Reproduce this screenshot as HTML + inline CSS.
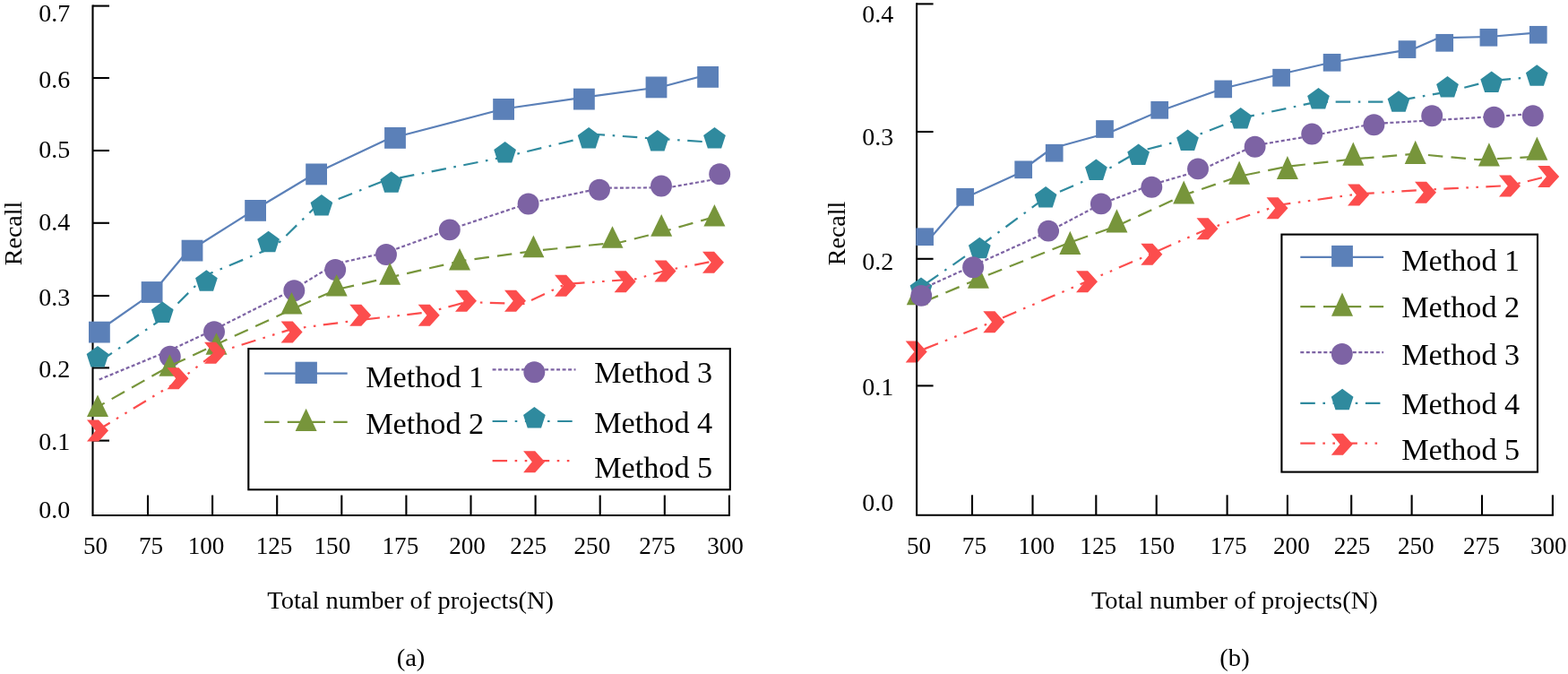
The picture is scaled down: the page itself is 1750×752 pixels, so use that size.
<!DOCTYPE html>
<html lang="en">
<head>
<meta charset="utf-8">
<title>Recall versus total number of projects</title>
<style>
html,body{margin:0;padding:0;background:#fff;}
body{width:1750px;height:752px;overflow:hidden;}
svg{display:block;}
text{font-family:"Liberation Serif",serif;}
</style>
</head>
<body>
<svg width="1750" height="752" viewBox="0 0 1750 752" font-family="'Liberation Serif', serif" fill="#000" role="img" aria-label="Recall versus total number of projects for five methods, panels (a) and (b)">
<rect width="1750" height="752" fill="#fff"/>
<g stroke="#000" stroke-width="2.1" fill="none" stroke-linecap="butt">
<path d="M103.5 5.55 V575 H814.85"/>
<path d="M103.5 491.6 H122"/>
<path d="M103.5 410.4 H122"/>
<path d="M103.5 330 H122"/>
<path d="M103.5 248.8 H122"/>
<path d="M103.5 168 H122"/>
<path d="M103.5 87 H122"/>
<path d="M103.5 6.6 H122"/>
<path d="M165 575 V552.5"/>
<path d="M237.1 575 V552.5"/>
<path d="M309.2 575 V552.5"/>
<path d="M381.3 575 V552.5"/>
<path d="M453.4 575 V552.5"/>
<path d="M525.5 575 V552.5"/>
<path d="M597.6 575 V552.5"/>
<path d="M669.7 575 V552.5"/>
<path d="M741.8 575 V552.5"/>
<path d="M813.9 575 V552.5"/>
</g>
<text transform="translate(78.2 577.6) scale(1 1)" font-size="28" text-anchor="end">0.0</text>
<text transform="translate(78.2 502.4) scale(1 1)" font-size="28" text-anchor="end">0.1</text>
<text transform="translate(78.2 421.4) scale(1 1)" font-size="28" text-anchor="end">0.2</text>
<text transform="translate(78.2 341) scale(1 1)" font-size="28" text-anchor="end">0.3</text>
<text transform="translate(78.2 257.4) scale(1 1)" font-size="28" text-anchor="end">0.4</text>
<text transform="translate(78.2 176) scale(1 1)" font-size="28" text-anchor="end">0.5</text>
<text transform="translate(78.2 98.4) scale(1 1)" font-size="28" text-anchor="end">0.6</text>
<text transform="translate(78.2 23.6) scale(1 1)" font-size="28" text-anchor="end">0.7</text>
<text transform="translate(106.6 617.7) scale(0.97 1)" font-size="28" text-anchor="middle">50</text>
<text transform="translate(168.6 617.7) scale(0.97 1)" font-size="28" text-anchor="middle">75</text>
<text transform="translate(230 617.7) scale(0.97 1)" font-size="28" text-anchor="middle">100</text>
<text transform="translate(306 617.7) scale(0.97 1)" font-size="28" text-anchor="middle">125</text>
<text transform="translate(370.9 617.7) scale(0.97 1)" font-size="28" text-anchor="middle">150</text>
<text transform="translate(446.9 617.7) scale(0.97 1)" font-size="28" text-anchor="middle">175</text>
<text transform="translate(521.5 617.7) scale(0.97 1)" font-size="28" text-anchor="middle">200</text>
<text transform="translate(589.7 617.7) scale(0.97 1)" font-size="28" text-anchor="middle">225</text>
<text transform="translate(660.9 617.7) scale(0.97 1)" font-size="28" text-anchor="middle">250</text>
<text transform="translate(733.5 617.7) scale(0.97 1)" font-size="28" text-anchor="middle">275</text>
<text transform="translate(809.5 617.7) scale(0.97 1)" font-size="28" text-anchor="middle">300</text>
<text transform="translate(458.2 678.9) scale(1.01 1)" font-size="28.2" text-anchor="middle">Total number of projects(N)</text>
<text transform="translate(23.5 260.4) rotate(-90)" font-size="28" text-anchor="middle">Recall</text>
<text transform="translate(458.5 742.8) scale(1.02 1)" font-size="28" text-anchor="middle">(a)</text>
<path d="M110.8 368.5 L169.5 327.7 L207.6 282.2 L285 233.5 L353.1 192.7 L432.7 155.3 L562.1 121.5 L651.9 108.7 L738 97 L790.1 83.3" fill="none" stroke="#5b80b8" stroke-width="2.2" stroke-linejoin="round"/>
<rect x="99" y="358.7" width="23.8" height="23.8" fill="#5b80b8"/>
<rect x="157.7" y="314.1" width="23.8" height="23.8" fill="#5b80b8"/>
<rect x="202.6" y="267.7" width="23.8" height="23.8" fill="#5b80b8"/>
<rect x="273.2" y="223" width="23.8" height="23.8" fill="#5b80b8"/>
<rect x="341.2" y="182.5" width="23.8" height="23.8" fill="#5b80b8"/>
<rect x="429.1" y="142" width="23.8" height="23.8" fill="#5b80b8"/>
<rect x="550.2" y="110" width="23.8" height="23.8" fill="#5b80b8"/>
<rect x="640" y="98.7" width="23.8" height="23.8" fill="#5b80b8"/>
<rect x="720.6" y="85.5" width="23.8" height="23.8" fill="#5b80b8"/>
<rect x="778.2" y="74" width="23.8" height="23.8" fill="#5b80b8"/>
<path d="M110.7 423.6 L190.2 390.6 L239 367.8 L326.7 323.5 L374.5 294.3 L430.9 281.8 L501.6 256.2 L589.3 227 L673 209.6 L745 209.4 L803.1 199.2" fill="none" stroke="#7d63a4" stroke-width="2.2" stroke-linejoin="round" stroke-dasharray="4 2.5"/>
<circle cx="189.8" cy="397.8" r="11.95" fill="#7d63a4"/>
<circle cx="239" cy="370.2" r="11.95" fill="#7d63a4"/>
<circle cx="328.3" cy="324.2" r="11.95" fill="#7d63a4"/>
<circle cx="374.2" cy="301" r="11.95" fill="#7d63a4"/>
<circle cx="431" cy="284" r="11.95" fill="#7d63a4"/>
<circle cx="501.8" cy="256.4" r="11.95" fill="#7d63a4"/>
<circle cx="589.6" cy="227.5" r="11.95" fill="#7d63a4"/>
<circle cx="669" cy="211.8" r="11.95" fill="#7d63a4"/>
<circle cx="738" cy="207.5" r="11.95" fill="#7d63a4"/>
<circle cx="803.2" cy="194.3" r="11.95" fill="#7d63a4"/>
<path d="M109 454 L189.4 408.5 L241.6 384.2 L325.5 345.4 L375.7 323 L435.2 309.5 L513.1 291.4 L595.4 280 L693.7 270 L738.3 258.9 L797.4 242" fill="none" stroke="#77953b" stroke-width="2.2" stroke-linejoin="round" stroke-dasharray="16.5 9.2" stroke-dashoffset="-18"/>
<polygon points="109,440.4 121,465 97,465" fill="#77953b"/>
<polygon points="189.4,395.2 201.4,419.8 177.4,419.8" fill="#77953b"/>
<polygon points="241.5,371.2 253.5,395.8 229.5,395.8" fill="#77953b"/>
<polygon points="325.5,325.9 337.5,350.5 313.5,350.5" fill="#77953b"/>
<polygon points="375.7,305.9 387.7,330.5 363.7,330.5" fill="#77953b"/>
<polygon points="435.1,293.1 447.1,317.7 423.1,317.7" fill="#77953b"/>
<polygon points="513,276.9 525,301.5 501,301.5" fill="#77953b"/>
<polygon points="595.4,262.6 607.4,287.2 583.4,287.2" fill="#77953b"/>
<polygon points="683.5,252.2 695.5,276.8 671.5,276.8" fill="#77953b"/>
<polygon points="738.2,239.1 750.2,263.7 726.2,263.7" fill="#77953b"/>
<polygon points="797.4,227.9 809.4,252.5 785.4,252.5" fill="#77953b"/>
<path d="M109 404.8 L181.3 355.6 L230.4 306.8 L307 275 L350 233 L428 202 L563.6 175 L666.9 150 L734 154.8 L797.5 158.9" fill="none" stroke="#2f8a9e" stroke-width="2.2" stroke-linejoin="round" stroke-dasharray="16.5 8.6 2.6 8.6" stroke-dashoffset="-2.8"/>
<polygon points="109,386.1 121.36,395.08 116.64,409.62 101.36,409.62 96.64,395.08" fill="#2f8a9e"/>
<polygon points="181.3,336.4 193.66,345.38 188.94,359.92 173.66,359.92 168.94,345.38" fill="#2f8a9e"/>
<polygon points="230.4,301.2 242.76,310.18 238.04,324.72 222.76,324.72 218.04,310.18" fill="#2f8a9e"/>
<polygon points="299.6,257.8 311.96,266.78 307.24,281.32 291.96,281.32 287.24,266.78" fill="#2f8a9e"/>
<polygon points="358.9,217.1 371.26,226.08 366.54,240.62 351.26,240.62 346.54,226.08" fill="#2f8a9e"/>
<polygon points="436.8,191.3 449.16,200.28 444.44,214.82 429.16,214.82 424.44,200.28" fill="#2f8a9e"/>
<polygon points="563.6,158 575.96,166.98 571.24,181.52 555.96,181.52 551.24,166.98" fill="#2f8a9e"/>
<polygon points="657.1,142.1 669.46,151.08 664.74,165.62 649.46,165.62 644.74,151.08" fill="#2f8a9e"/>
<polygon points="733.9,145 746.26,153.98 741.54,168.52 726.26,168.52 721.54,153.98" fill="#2f8a9e"/>
<polygon points="797.5,142.1 809.86,151.08 805.14,165.62 789.86,165.62 785.14,151.08" fill="#2f8a9e"/>
<path d="M109 480 L198.5 425.6 L240 394 L325.7 367.1 L402.1 357 L478.6 348.3 L520.6 337 L584.5 339 L631.2 317 L709.5 311.3 L742.3 302 L795.9 291.5" fill="none" stroke="#fc4d4d" stroke-width="2.2" stroke-linejoin="round" stroke-dasharray="16.5 8.5 2.6 8.5 2.6 8.4" stroke-dashoffset="0.5"/>
<polygon points="97,468.4 110.1,468.4 121,480.4 110.1,492.4 97,492.4 106.7,480.4" fill="#fc4d4d"/>
<polygon points="186.5,410.2 199.6,410.2 210.5,422.2 199.6,434.2 186.5,434.2 196.2,422.2" fill="#fc4d4d"/>
<polygon points="228,381.8 241.1,381.8 252,393.8 241.1,405.8 228,405.8 237.7,393.8" fill="#fc4d4d"/>
<polygon points="313.6,358.4 326.7,358.4 337.6,370.4 326.7,382.4 313.6,382.4 323.3,370.4" fill="#fc4d4d"/>
<polygon points="390.2,339.8 403.3,339.8 414.2,351.8 403.3,363.8 390.2,363.8 399.9,351.8" fill="#fc4d4d"/>
<polygon points="466.7,339.8 479.8,339.8 490.7,351.8 479.8,363.8 466.7,363.8 476.4,351.8" fill="#fc4d4d"/>
<polygon points="508,323.8 521.1,323.8 532,335.8 521.1,347.8 508,347.8 517.7,335.8" fill="#fc4d4d"/>
<polygon points="563,323.8 576.1,323.8 587,335.8 576.1,347.8 563,347.8 572.7,335.8" fill="#fc4d4d"/>
<polygon points="619,306.8 632.1,306.8 643,318.8 632.1,330.8 619,330.8 628.7,318.8" fill="#fc4d4d"/>
<polygon points="685.6,302.3 698.7,302.3 709.6,314.3 698.7,326.3 685.6,326.3 695.3,314.3" fill="#fc4d4d"/>
<polygon points="730.5,290.5 743.6,290.5 754.5,302.5 743.6,314.5 730.5,314.5 740.2,302.5" fill="#fc4d4d"/>
<polygon points="784,280.8 797.1,280.8 808,292.8 797.1,304.8 784,304.8 793.7,292.8" fill="#fc4d4d"/>
<rect x="277.3" y="389.1" width="537.5" height="157.2" fill="#fff" stroke="#000" stroke-width="2.1"/>
<path d="M295.1 416.6 L387.7 416.6" fill="none" stroke="#5b80b8" stroke-width="2.2" stroke-linejoin="round"/>
<rect x="329.5" y="403.7" width="24.4" height="24.4" fill="#5b80b8"/>
<text transform="translate(408.2 431.8) scale(1 1)" font-size="34.2" text-anchor="start">Method 1</text>
<path d="M295.1 470.9 L387.7 470.9" fill="none" stroke="#77953b" stroke-width="2.2" stroke-linejoin="round" stroke-dasharray="16.5 9.2"/>
<polygon points="341.6,455.7 353.6,480.9 329.6,480.9" fill="#77953b"/>
<text transform="translate(408.2 483.6) scale(1 1)" font-size="34.2" text-anchor="start">Method 2</text>
<path d="M549.6 412.3 L642.5 412.3" fill="none" stroke="#7d63a4" stroke-width="2.2" stroke-linejoin="round" stroke-dasharray="4 2.5"/>
<circle cx="596.3" cy="415.3" r="11.95" fill="#7d63a4"/>
<text transform="translate(663.2 426.7) scale(1 1)" font-size="34.2" text-anchor="start">Method 3</text>
<path d="M549.6 470 L642.5 470" fill="none" stroke="#2f8a9e" stroke-width="2.2" stroke-linejoin="round" stroke-dasharray="16.5 8.6 2.6 8.6"/>
<polygon points="596.4,453.9 608.76,462.88 604.04,477.42 588.76,477.42 584.04,462.88" fill="#2f8a9e"/>
<text transform="translate(663.2 482.5) scale(1 1)" font-size="34.2" text-anchor="start">Method 4</text>
<path d="M549.6 514.1 L642.5 514.1" fill="none" stroke="#fc4d4d" stroke-width="2.2" stroke-linejoin="round" stroke-dasharray="16.5 8.5 2.6 8.5 2.6 8.4"/>
<polygon points="584.1,503.3 597.2,503.3 608.1,515.3 597.2,527.3 584.1,527.3 593.8,515.3" fill="#fc4d4d"/>
<text transform="translate(663.2 533.2) scale(1 1)" font-size="34.2" text-anchor="start">Method 5</text>
<path d="M1022.5 393 L1109.1 358.7 L1212.9 314.1 L1285.1 283 L1347.1 255.8 L1429 228.5 L1516.1 216.4 L1591 211.7 L1685.1 207 L1727.9 196.6" fill="none" stroke="#fc4d4d" stroke-width="2.2" stroke-linejoin="round" stroke-dasharray="16.5 8.5 2.6 8.5 2.6 8.4" stroke-dashoffset="-9.8"/>
<polygon points="1010.7,380.4 1023.8,380.4 1034.7,392.4 1023.8,404.4 1010.7,404.4 1020.4,392.4" fill="#fc4d4d"/>
<polygon points="1097.3,347.3 1110.4,347.3 1121.3,359.3 1110.4,371.3 1097.3,371.3 1107,359.3" fill="#fc4d4d"/>
<polygon points="1201,302.3 1214.1,302.3 1225,314.3 1214.1,326.3 1201,326.3 1210.7,314.3" fill="#fc4d4d"/>
<polygon points="1273.3,271.8 1286.4,271.8 1297.3,283.8 1286.4,295.8 1273.3,295.8 1283,283.8" fill="#fc4d4d"/>
<polygon points="1335.5,243.2 1348.6,243.2 1359.5,255.2 1348.6,267.2 1335.5,267.2 1345.2,255.2" fill="#fc4d4d"/>
<polygon points="1413.5,220.2 1426.6,220.2 1437.5,232.2 1426.6,244.2 1413.5,244.2 1423.2,232.2" fill="#fc4d4d"/>
<polygon points="1504.1,205.4 1517.2,205.4 1528.1,217.4 1517.2,229.4 1504.1,229.4 1513.8,217.4" fill="#fc4d4d"/>
<polygon points="1579,202.8 1592.1,202.8 1603,214.8 1592.1,226.8 1579,226.8 1588.7,214.8" fill="#fc4d4d"/>
<polygon points="1673,195.5 1686.1,195.5 1697,207.5 1686.1,219.5 1673,219.5 1682.7,207.5" fill="#fc4d4d"/>
<polygon points="1716.2,185 1729.3,185 1740.2,197 1729.3,209 1716.2,209 1725.9,197" fill="#fc4d4d"/>
<g stroke="#000" stroke-width="2.1" fill="none" stroke-linecap="butt">
<path d="M1023.1 3.35 V574.8 H1733.95"/>
<path d="M1023.1 430.4 H1041.6"/>
<path d="M1023.1 288.8 H1041.6"/>
<path d="M1023.1 147 H1041.6"/>
<path d="M1023.1 4.4 H1041.6"/>
<path d="M1085 574.8 V552.3"/>
<path d="M1152.5 574.8 V552.3"/>
<path d="M1223.3 574.8 V552.3"/>
<path d="M1290.7 574.8 V552.3"/>
<path d="M1369.6 574.8 V552.3"/>
<path d="M1436.9 574.8 V552.3"/>
<path d="M1508.2 574.8 V552.3"/>
<path d="M1575.6 574.8 V552.3"/>
<path d="M1654 574.8 V552.3"/>
<path d="M1732.9 574.8 V552.3"/>
</g>
<text transform="translate(997.2 570) scale(1 1)" font-size="28" text-anchor="end">0.0</text>
<text transform="translate(997.2 441) scale(1 1)" font-size="28" text-anchor="end">0.1</text>
<text transform="translate(997.2 301) scale(1 1)" font-size="28" text-anchor="end">0.2</text>
<text transform="translate(997.2 162.4) scale(1 1)" font-size="28" text-anchor="end">0.3</text>
<text transform="translate(997.2 25) scale(1 1)" font-size="28" text-anchor="end">0.4</text>
<text transform="translate(1025.6 617.7) scale(0.97 1)" font-size="28" text-anchor="middle">50</text>
<text transform="translate(1087.4 617.7) scale(0.97 1)" font-size="28" text-anchor="middle">75</text>
<text transform="translate(1156.8 617.7) scale(0.97 1)" font-size="28" text-anchor="middle">100</text>
<text transform="translate(1225.7 617.7) scale(0.97 1)" font-size="28" text-anchor="middle">125</text>
<text transform="translate(1290.6 617.7) scale(0.97 1)" font-size="28" text-anchor="middle">150</text>
<text transform="translate(1371.1 617.7) scale(0.97 1)" font-size="28" text-anchor="middle">175</text>
<text transform="translate(1441.4 617.7) scale(0.97 1)" font-size="28" text-anchor="middle">200</text>
<text transform="translate(1509 617.7) scale(0.97 1)" font-size="28" text-anchor="middle">225</text>
<text transform="translate(1580.3 617.7) scale(0.97 1)" font-size="28" text-anchor="middle">250</text>
<text transform="translate(1653.4 617.7) scale(0.97 1)" font-size="28" text-anchor="middle">275</text>
<text transform="translate(1728.3 617.7) scale(0.97 1)" font-size="28" text-anchor="middle">300</text>
<text transform="translate(1377.8 678.9) scale(1.01 1)" font-size="28.2" text-anchor="middle">Total number of projects(N)</text>
<text transform="translate(943 260.4) rotate(-90)" font-size="28" text-anchor="middle">Recall</text>
<text transform="translate(1378 742.8) scale(1.02 1)" font-size="28" text-anchor="middle">(b)</text>
<path d="M1033 271.7 L1077 220.8 L1133.5 195 L1174.1 165.5 L1238.6 147.8 L1294.1 124 L1364.9 98.8 L1430.1 82.5 L1486.6 69.5 L1578.5 54.3 L1605.2 42.4 L1661.6 41 L1717 36.3" fill="none" stroke="#5b80b8" stroke-width="2.2" stroke-linejoin="round"/>
<rect x="1022.25" y="254.35" width="19.7" height="19.7" fill="#5b80b8"/>
<rect x="1067.35" y="209.95" width="19.7" height="19.7" fill="#5b80b8"/>
<rect x="1132.35" y="179.45" width="19.7" height="19.7" fill="#5b80b8"/>
<rect x="1166.85" y="160.85" width="19.7" height="19.7" fill="#5b80b8"/>
<rect x="1223.15" y="134.15" width="19.7" height="19.7" fill="#5b80b8"/>
<rect x="1284.35" y="112.95" width="19.7" height="19.7" fill="#5b80b8"/>
<rect x="1355.35" y="89.55" width="19.7" height="19.7" fill="#5b80b8"/>
<rect x="1420.25" y="76.85" width="19.7" height="19.7" fill="#5b80b8"/>
<rect x="1476.75" y="59.95" width="19.7" height="19.7" fill="#5b80b8"/>
<rect x="1560.65" y="45.25" width="19.7" height="19.7" fill="#5b80b8"/>
<rect x="1602.35" y="37.95" width="19.7" height="19.7" fill="#5b80b8"/>
<rect x="1651.55" y="31.95" width="19.7" height="19.7" fill="#5b80b8"/>
<rect x="1706.95" y="28.95" width="19.7" height="19.7" fill="#5b80b8"/>
<path d="M1024 339.8 L1091.8 311.2 L1194.3 270.5 L1246.4 252.2 L1321.2 217.7 L1383.1 196.7 L1436.9 185.7 L1510.3 177.5 L1579.7 171.7 L1649.7 178.2 L1715.4 174.8" fill="none" stroke="#77953b" stroke-width="2.2" stroke-linejoin="round" stroke-dasharray="16.5 9.2" stroke-dashoffset="-8.4"/>
<polygon points="1023.8,314.1 1035.8,340.3 1011.8,340.3" fill="#77953b"/>
<polygon points="1091.9,295.6 1103.9,321.8 1079.9,321.8" fill="#77953b"/>
<polygon points="1194.3,257.8 1206.3,284 1182.3,284" fill="#77953b"/>
<polygon points="1246.4,233.2 1258.4,259.4 1234.4,259.4" fill="#77953b"/>
<polygon points="1321.2,201.4 1333.2,227.6 1309.2,227.6" fill="#77953b"/>
<polygon points="1383.1,179.6 1395.1,205.8 1371.1,205.8" fill="#77953b"/>
<polygon points="1436.9,173.9 1448.9,200.1 1424.9,200.1" fill="#77953b"/>
<polygon points="1510.3,158.5 1522.3,184.7 1498.3,184.7" fill="#77953b"/>
<polygon points="1579.7,156.8 1591.7,183 1567.7,183" fill="#77953b"/>
<polygon points="1661.9,159.3 1673.9,185.5 1649.9,185.5" fill="#77953b"/>
<polygon points="1715.4,152.5 1727.4,178.7 1703.4,178.7" fill="#77953b"/>
<path d="M1028 320.2 L1093.4 274.7 L1166.9 220.5 L1223.4 196.3 L1270.6 169 L1325.5 155.1 L1384.9 131.8 L1470.3 113.6 L1552 113.6 L1615.5 102.5 L1664.6 90 L1715.4 85.4" fill="none" stroke="#2f8a9e" stroke-width="2.2" stroke-linejoin="round" stroke-dasharray="16.5 8.6 2.6 8.6" stroke-dashoffset="-6.9"/>
<polygon points="1028,309.5 1040.36,318.48 1035.64,333.02 1020.36,333.02 1015.64,318.48" fill="#2f8a9e"/>
<polygon points="1093.3,264.8 1105.66,273.78 1100.94,288.32 1085.66,288.32 1080.94,273.78" fill="#2f8a9e"/>
<polygon points="1167.1,208 1179.46,216.98 1174.74,231.52 1159.46,231.52 1154.74,216.98" fill="#2f8a9e"/>
<polygon points="1223.4,177.6 1235.76,186.58 1231.04,201.12 1215.76,201.12 1211.04,186.58" fill="#2f8a9e"/>
<polygon points="1270.6,160.6 1282.96,169.58 1278.24,184.12 1262.96,184.12 1258.24,169.58" fill="#2f8a9e"/>
<polygon points="1325.5,144.6 1337.86,153.58 1333.14,168.12 1317.86,168.12 1313.14,153.58" fill="#2f8a9e"/>
<polygon points="1384.7,120 1397.06,128.98 1392.34,143.52 1377.06,143.52 1372.34,128.98" fill="#2f8a9e"/>
<polygon points="1471.5,98 1483.86,106.98 1479.14,121.52 1463.86,121.52 1459.14,106.98" fill="#2f8a9e"/>
<polygon points="1561,101.2 1573.36,110.18 1568.64,124.72 1553.36,124.72 1548.64,110.18" fill="#2f8a9e"/>
<polygon points="1615.5,85 1627.86,93.98 1623.14,108.52 1607.86,108.52 1603.14,93.98" fill="#2f8a9e"/>
<polygon points="1664.7,79.6 1677.06,88.58 1672.34,103.12 1657.06,103.12 1652.34,88.58" fill="#2f8a9e"/>
<polygon points="1715.3,72.2 1727.66,81.18 1722.94,95.72 1707.66,95.72 1702.94,81.18" fill="#2f8a9e"/>
<path d="M1028.4 322.6 L1086.2 296.4 L1170 258.5 L1228.7 227.7 L1285.1 206.2 L1337.1 191 L1400.9 162.2 L1464.1 151.5 L1533.2 138 L1598.4 134.3 L1667.5 130 L1710.9 127" fill="none" stroke="#7d63a4" stroke-width="2.2" stroke-linejoin="round" stroke-dasharray="4 2.5"/>
<circle cx="1028.2" cy="329.9" r="11.95" fill="#7d63a4"/>
<circle cx="1086.1" cy="298.2" r="11.95" fill="#7d63a4"/>
<circle cx="1170.1" cy="257.6" r="11.95" fill="#7d63a4"/>
<circle cx="1228.9" cy="227.4" r="11.95" fill="#7d63a4"/>
<circle cx="1285.3" cy="208.8" r="11.95" fill="#7d63a4"/>
<circle cx="1337" cy="188.4" r="11.95" fill="#7d63a4"/>
<circle cx="1400.6" cy="163.8" r="11.95" fill="#7d63a4"/>
<circle cx="1464.2" cy="149.5" r="11.95" fill="#7d63a4"/>
<circle cx="1533.4" cy="139.3" r="11.95" fill="#7d63a4"/>
<circle cx="1598.2" cy="129.2" r="11.95" fill="#7d63a4"/>
<circle cx="1667.4" cy="130.8" r="11.95" fill="#7d63a4"/>
<circle cx="1710.8" cy="129.2" r="11.95" fill="#7d63a4"/>
<rect x="1430.4" y="261.6" width="285.6" height="265" fill="#fff" stroke="#000" stroke-width="2.1"/>
<path d="M1451.3 286.9 L1544.1 286.9" fill="none" stroke="#5b80b8" stroke-width="2.2" stroke-linejoin="round"/>
<rect x="1486.1" y="273.9" width="23.8" height="23.8" fill="#5b80b8"/>
<text transform="translate(1564.2 301.9) scale(1 1)" font-size="34.2" text-anchor="start">Method 1</text>
<path d="M1451.3 342.2 L1544.1 342.2" fill="none" stroke="#77953b" stroke-width="2.2" stroke-linejoin="round" stroke-dasharray="16.5 9.2"/>
<polygon points="1498,326.6 1510,352.8 1486,352.8" fill="#77953b"/>
<text transform="translate(1564.2 353.7) scale(1 1)" font-size="34.2" text-anchor="start">Method 2</text>
<path d="M1451.3 393.2 L1544.1 393.2" fill="none" stroke="#7d63a4" stroke-width="2.2" stroke-linejoin="round" stroke-dasharray="4 2.5"/>
<circle cx="1497.8" cy="395" r="11.95" fill="#7d63a4"/>
<text transform="translate(1564.2 406.9) scale(1 1)" font-size="34.2" text-anchor="start">Method 3</text>
<path d="M1451.3 449.8 L1544.1 449.8" fill="none" stroke="#2f8a9e" stroke-width="2.2" stroke-linejoin="round" stroke-dasharray="16.5 8.6 2.6 8.6"/>
<polygon points="1498.1,433.7 1510.46,442.68 1505.74,457.22 1490.46,457.22 1485.74,442.68" fill="#2f8a9e"/>
<text transform="translate(1564.2 462.2) scale(1 1)" font-size="34.2" text-anchor="start">Method 4</text>
<path d="M1451.3 494.7 L1544.1 494.7" fill="none" stroke="#fc4d4d" stroke-width="2.2" stroke-linejoin="round" stroke-dasharray="16.5 8.5 2.6 8.5 2.6 8.4"/>
<polygon points="1485.8,483.7 1498.9,483.7 1509.8,495.7 1498.9,507.7 1485.8,507.7 1495.5,495.7" fill="#fc4d4d"/>
<text transform="translate(1564.2 512.7) scale(1 1)" font-size="34.2" text-anchor="start">Method 5</text>
</svg>
</body>
</html>
